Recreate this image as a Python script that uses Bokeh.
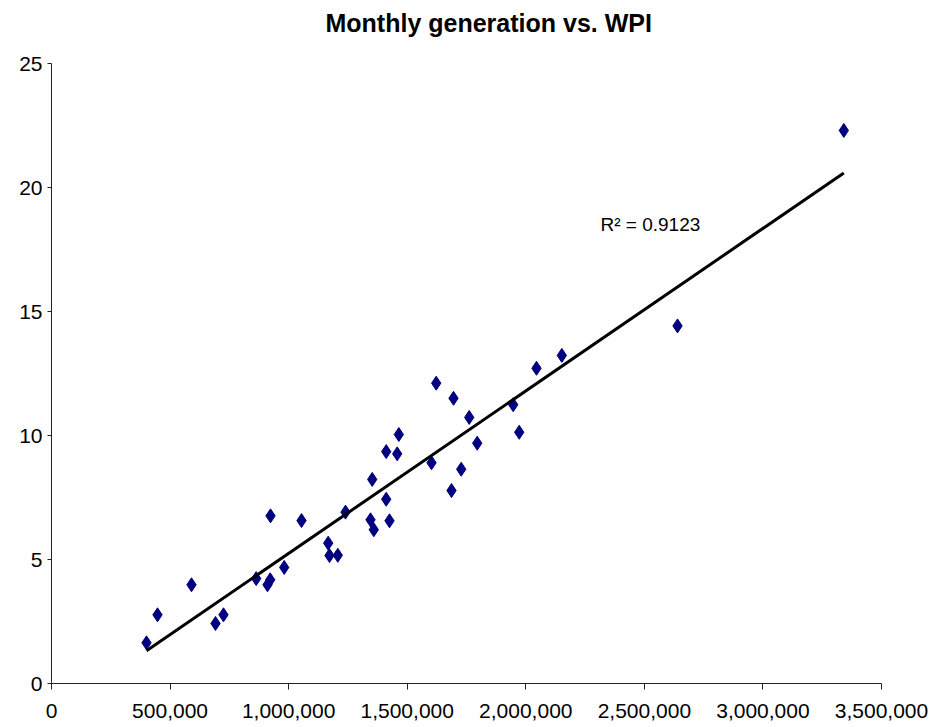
import numpy as np
from bokeh.plotting import figure
from bokeh.models import (Range1d, FixedTicker, NumeralTickFormatter, Label,
                          LinearAxis)
from bokeh.embed import file_html
from bokeh.resources import INLINE

# ---- data ----
generation = [400600, 447000, 590400, 691600, 725300, 863200, 910900, 922300,
              923500, 981300, 1054300, 1166800, 1172300, 1207300, 1239800,
              1345200, 1359100, 1352400, 1411400, 1425300, 1411400, 1457800,
              1464600, 1602500, 1622300, 1695200, 1686800, 1727700, 1761400,
              1795200, 1947000, 1972300, 2045200, 2152000, 2639800, 3341100]
wpi = [1.64, 2.77, 3.98, 2.42, 2.77, 4.23, 3.98, 4.18, 6.76, 4.68, 6.57,
       5.66, 5.16, 5.17, 6.91, 6.60, 6.20, 8.23, 7.43, 6.56, 9.35, 9.26,
       10.04, 8.90, 12.11, 11.50, 7.78, 8.64, 10.73, 9.69, 11.24, 10.13,
       12.71, 13.23, 14.42, 22.30]
x_ticks = [0, 500000, 1000000, 1500000, 2000000, 2500000, 3000000, 3500000]
y_ticks = [0, 5, 10, 15, 20, 25]
title_text = "Monthly generation vs. WPI"
r2_text = "R\u00b2 = 0.9123"

FONT = "Liberation Sans"

p = figure(width=944, height=727, output_backend="svg", toolbar_location=None,
           x_range=Range1d(0, 3500000), y_range=Range1d(0, 25),
           min_border_left=51, min_border_right=63, min_border_top=63,
           min_border_bottom=44)
p.background_fill_color = "white"
p.border_fill_color = "white"
p.outline_line_color = None
p.grid.visible = False

xa = p.below[0]
ya = p.left[0]
for ax in (xa, ya):
    ax.axis_line_color = "#222222"
    ax.major_tick_line_color = "#222222"
    ax.minor_tick_line_color = None
    ax.major_tick_in = 0
    ax.major_label_text_font = FONT
    ax.major_label_text_font_size = "21px"
    ax.major_label_text_color = "black"

xa.ticker = FixedTicker(ticks=x_ticks)
xa.formatter = NumeralTickFormatter(format="0,0")
xa.major_tick_out = 6
xa.major_label_standoff = 14
ya.ticker = FixedTicker(ticks=y_ticks)
ya.major_tick_out = 4
ya.major_label_standoff = 5

# invisible spacer panel between the frame and the title
spacer = LinearAxis(ticker=FixedTicker(ticks=[x_ticks[1]]),
                    axis_line_color=None, major_tick_line_color=None,
                    minor_tick_line_color=None, major_tick_out=26,
                    major_tick_in=0, major_label_standoff=0,
                    major_label_overrides={x_ticks[1]: ""},
                    major_label_text_font_size="1px")
p.add_layout(spacer, "above")

p.title.text = title_text
p.title.text_font = FONT
p.title.text_font_size = "25px"
p.title.text_font_style = "bold"
p.title.text_color = "black"
p.title.align = "left"
p.title.offset = 274
p.title.vertical_align = "bottom"
p.title.standoff = 2

p.scatter(generation, wpi, marker="diamond", size=14,
          fill_color="#000080", line_color="#000080", line_width=1)

# linear trend line over the data range
slope, intercept = np.polyfit(generation, wpi, 1)
tx = [min(generation), max(generation)]
ty = [slope * v + intercept for v in tx]
p.line(tx, ty, line_color="black", line_width=3)

p.add_layout(Label(x=2315000, y=18.5, text=r2_text, text_font=FONT,
                   text_font_size="19px", text_color="black",
                   text_baseline="alphabetic"))

open("out.html", "w").write(file_html(p, INLINE))
